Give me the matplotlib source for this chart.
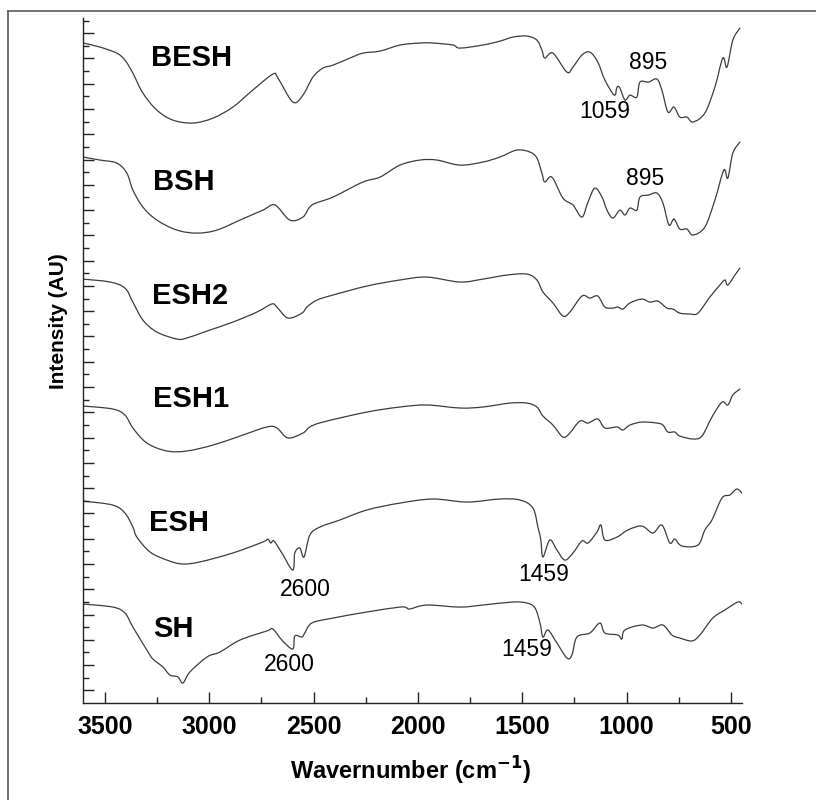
import matplotlib
matplotlib.use("Agg")
import numpy as np
import matplotlib.pyplot as plt
from matplotlib.ticker import MultipleLocator, FixedLocator, NullFormatter
from matplotlib.lines import Line2D
from matplotlib.path import Path
from matplotlib.patches import PathPatch

plt.rcParams["font.family"] = ["Liberation Sans", "DejaVu Sans"]

# FTIR spectra, stacked (wavenumber in cm-1, intensity in arbitrary units with offsets)
besh_wn = [3605, 3524, 3443, 3404, 3366, 3318, 3251, 3174, 3078, 2982, 2887, 2791, 2695, 2671,
           2599, 2551, 2503, 2455, 2407, 2326, 2264, 2182, 2086, 1991, 1928, 1832, 1799, 1689,
           1607, 1545, 1478, 1430, 1406, 1392, 1353, 1286, 1257, 1214, 1176, 1138, 1104, 1059,
           1046, 1032, 1008, 984, 951, 936, 895, 855, 831, 802, 773, 745, 711, 682, 625, 577,
           539, 519, 491, 457]
besh_i = [52.22, 51.90, 51.42, 50.87, 49.84, 48.26, 46.91, 46.12, 45.89, 46.28, 47.15, 48.50, 49.76, 49.45,
          47.55, 48.10, 49.53, 50.24, 50.47, 51.03, 51.42, 51.58, 52.06, 52.22, 52.22, 52.06, 51.82, 52.06,
          52.37, 52.69, 52.77, 52.45, 51.66, 51.03, 51.42, 49.92, 50.32, 51.27, 51.50, 50.71, 49.29, 48.10,
          48.73, 48.66, 47.71, 48.10, 47.94, 49.13, 49.13, 49.37, 48.50, 46.76, 47.15, 46.36, 46.36, 45.97, 46.68, 48.73,
          51.03, 50.32, 52.45, 53.40]

bsh_wn = [3605, 3524, 3443, 3395, 3366, 3318, 3251, 3155, 3059, 2963, 2853, 2743, 2685, 2614,
          2551, 2508, 2407, 2264, 2182, 2086, 1991, 1909, 1799, 1689, 1607, 1526, 1463, 1430,
          1406, 1392, 1358, 1305, 1257, 1214, 1185, 1152, 1118, 1094, 1066, 1032, 1008, 984,
          951, 936, 895, 855, 826, 797, 773, 745, 711, 682, 625, 577, 534, 515, 491, 457]
bsh_i = [43.20, 42.96, 42.72, 41.93, 40.59, 39.24, 38.21, 37.42, 37.18, 37.42, 38.21, 39.00, 39.40, 38.21,
         38.45, 39.40, 40.03, 41.22, 41.61, 42.56, 42.96, 42.96, 42.56, 42.80, 43.20, 43.75, 43.59, 43.12,
         41.93, 41.22, 41.61, 39.95, 39.40, 38.45, 39.64, 40.74, 40.03, 39.00, 38.37, 39.00, 38.61, 39.16,
         39.00, 40.03, 40.19, 40.35, 39.56, 37.82, 38.29, 37.50, 37.50, 37.03, 37.66, 39.79, 42.17, 41.53, 43.51, 44.38]

esh2_wn = [3605, 3476, 3404, 3366, 3318, 3251, 3155, 3107, 3011, 2887, 2772, 2700, 2676, 2623,
           2556, 2532, 2484, 2407, 2245, 2086, 1957, 1799, 1689, 1574, 1478, 1430, 1401, 1353,
           1305, 1272, 1214, 1176, 1138, 1104, 1066, 1042, 1018, 984, 927, 888, 850, 807, 778,
           745, 697, 658, 601, 553, 529, 515, 481, 457]
esh2_i = [33.54, 33.31, 32.83, 31.72, 30.30, 29.35, 28.80, 28.88, 29.43, 30.14, 30.93, 31.57, 31.33, 30.46,
          30.85, 31.33, 31.88, 32.28, 32.99, 33.47, 33.70, 33.31, 33.54, 33.86, 33.94, 33.47, 32.52, 31.65,
          30.62, 30.93, 32.20, 32.04, 32.20, 31.33, 31.25, 31.33, 31.17, 31.65, 31.96, 31.72, 31.80, 31.25, 31.17,
          30.85, 30.78, 30.85, 32.12, 33.07, 33.47, 33.07, 33.86, 34.41]

esh1_wn = [3605, 3462, 3404, 3366, 3299, 3203, 3107, 2982, 2853, 2724, 2676, 2623, 2551, 2518,
           2455, 2245, 2086, 1957, 1799, 1689, 1559, 1478, 1430, 1401, 1353, 1305, 1272, 1224,
           1185, 1138, 1104, 1046, 1018, 984, 927, 855, 826, 802, 769, 745, 682, 639, 591, 543,
           515, 491, 457]
esh1_i = [23.50, 23.26, 22.78, 21.76, 20.57, 19.94, 19.94, 20.41, 21.12, 21.84, 21.76, 20.97, 21.36, 21.84,
          22.23, 23.02, 23.42, 23.58, 23.34, 23.42, 23.73, 23.73, 23.42, 22.71, 21.99, 21.04, 21.36, 22.31,
          22.15, 22.47, 21.76, 21.84, 21.60, 21.99, 22.23, 22.15, 21.99, 21.44, 21.44, 21.12, 20.89, 21.12, 22.63, 23.81,
          23.58, 24.37, 24.84]

esh_wn = [3605, 3462, 3404, 3366, 3347, 3284, 3203, 3131, 3045, 2887, 2743, 2719, 2705, 2690,
          2652, 2600, 2590, 2566, 2546, 2518, 2470, 2374, 2245, 2086, 1928, 1765, 1607, 1511,
          1449, 1425, 1411, 1401, 1368, 1334, 1296, 1257, 1214, 1185, 1142, 1123, 1104, 1046,
          994, 927, 874, 831, 793, 769, 735, 658, 625, 591, 543, 505, 472, 447]
esh_i = [15.98, 15.66, 15.03, 13.92, 13.13, 11.95, 11.31, 11.00, 11.16, 11.87, 12.74, 12.97, 12.66, 12.82,
         11.87, 10.52, 11.87, 12.26, 11.55, 13.29, 13.92, 14.48, 15.27, 15.82, 16.14, 15.90, 16.14, 16.06,
         15.43, 13.92, 12.90, 11.55, 12.90, 12.10, 11.31, 11.87, 12.82, 12.66, 13.53, 14.08, 12.90, 13.13,
         13.69, 14.00, 13.45, 14.08, 12.66, 12.97, 12.42, 12.50, 13.69, 14.48, 16.22, 16.46, 16.93, 16.61]

sh_wn = [3605, 3462, 3404, 3366, 3299, 3270, 3222, 3189, 3150, 3126, 3093, 3011, 2949, 2853,
         2724, 2695, 2652, 2600, 2590, 2556, 2542, 2508, 2407, 2245, 2086, 2053, 2038, 1957,
         1799, 1689, 1545, 1478, 1439, 1415, 1401, 1377, 1334, 1286, 1262, 1238, 1176, 1128,
         1104, 1042, 1023, 1008, 927, 874, 826, 783, 745, 687, 649, 587, 529, 467, 447]
sh_i = [7.83, 7.59, 7.12, 6.01, 4.19, 3.48, 2.85, 2.22, 2.06, 1.58, 2.45, 3.64, 4.03, 4.98,
        5.70, 5.85, 4.98, 4.27, 5.30, 5.22, 5.54, 6.33, 6.72, 7.20, 7.59, 7.52, 7.44, 7.75,
        7.59, 7.75, 7.99, 7.91, 7.52, 6.33, 5.22, 5.78, 4.75, 3.56, 3.80, 5.22, 5.54, 6.33,
        5.54, 5.38, 5.06, 5.78, 6.17, 5.93, 6.17, 5.38, 5.14, 4.91, 5.38, 6.72, 7.36, 7.99, 7.83]

series_names = ["BESH", "BSH", "ESH2", "ESH1", "ESH", "SH"]
series_wn = [besh_wn, bsh_wn, esh2_wn, esh1_wn, esh_wn, sh_wn]
series_i = [besh_i, bsh_i, esh2_i, esh1_i, esh_i, sh_i]
name_pos = [(3083, 51.03), (3121, 41.22), (3093, 32.20), (3088, 24.05), (3145, 14.24), (3174, 5.85)]

peak_labels = ["895", "1059", "895", "2600", "1459", "2600", "1459"]
peak_pos = [(898, 50.71), (1104, 46.84), (912, 41.53), (2540, 9.02), (1399, 10.13), (2614, 3.01), (1481, 4.27)]

x_ticks = [3500, 3000, 2500, 2000, 1500, 1000, 500]


def spline_path(x, y):
    """Smooth Bezier path through the measured points (Catmull-Rom tangents)."""
    p = np.column_stack([x, y]).astype(float)
    ext = np.vstack([p[0], p, p[-1]])
    verts = [p[0]]
    codes = [Path.MOVETO]
    for i in range(len(p) - 1):
        p0, p1, p2, p3 = ext[i], ext[i + 1], ext[i + 2], ext[i + 3]
        verts += [p1 + (p2 - p0) / 6.0, p2 - (p3 - p1) / 6.0, p2]
        codes += [Path.CURVE4] * 3
    return Path(verts, codes)


W, H = 816, 800
fig = plt.figure(figsize=(W / 100, H / 100), dpi=100)
fig.patch.set_facecolor("white")

# thin frame around the figure
frame_col = "#5a5a5a"
fig.add_artist(Line2D([7.5 / W, 7.5 / W], [0, 1 - 10.5 / H], color=frame_col, lw=1.2))
fig.add_artist(Line2D([7.5 / W, 1], [1 - 10.5 / H, 1 - 10.5 / H], color=frame_col, lw=1.2))

ax = fig.add_axes([83 / W, 1 - 703 / H, (742 - 83) / W, (703 - 18) / H])
for wn, inten in zip(series_wn, series_i):
    ax.add_patch(PathPatch(spline_path(wn, inten), fill=False, edgecolor="#3c3c3c",
                           lw=0.9, capstyle="round", joinstyle="round"))

ax.set_xlim(3605, 447)
ax.set_ylim(0, 54.2)

for s in ("top", "right"):
    ax.spines[s].set_visible(False)
for s in ("left", "bottom"):
    ax.spines[s].set_linewidth(1.0)
    ax.spines[s].set_color("#222222")

ax.xaxis.set_major_locator(FixedLocator(x_ticks))
ax.xaxis.set_minor_locator(MultipleLocator(250))
ax.set_xticklabels([str(t) for t in x_ticks], fontsize=18, fontweight="bold")
ax.yaxis.set_major_locator(FixedLocator([i for i in range(1, 54, 2)]))
ax.yaxis.set_minor_locator(FixedLocator([i for i in range(2, 55, 2)]))
ax.yaxis.set_major_formatter(NullFormatter())
ax.tick_params(axis="both", which="major", direction="in", length=8, width=1.0, color="#222222")
ax.tick_params(axis="both", which="minor", direction="in", length=4, width=1.0, color="#222222")
ax.tick_params(axis="x", which="major", pad=9)

for name, (x, y) in zip(series_names, name_pos):
    ax.text(x, y, name, fontsize=21, fontweight="bold", ha="center", va="center")
for lab, (x, y) in zip(peak_labels, peak_pos):
    ax.text(x, y, lab, fontsize=16.5, ha="center", va="center")

fig.text(59 / W, 1 - 321 / H, "Intensity (AU)", rotation=90, fontsize=15,
         fontweight="bold", ha="center", va="center")
fig.text(411 / W, 1 - 771 / H, "Wavernumber (cm$^{\\mathbf{-1}}$)", fontsize=17,
         fontweight="bold", ha="center", va="center")

fig.savefig("out.png", dpi=100)
